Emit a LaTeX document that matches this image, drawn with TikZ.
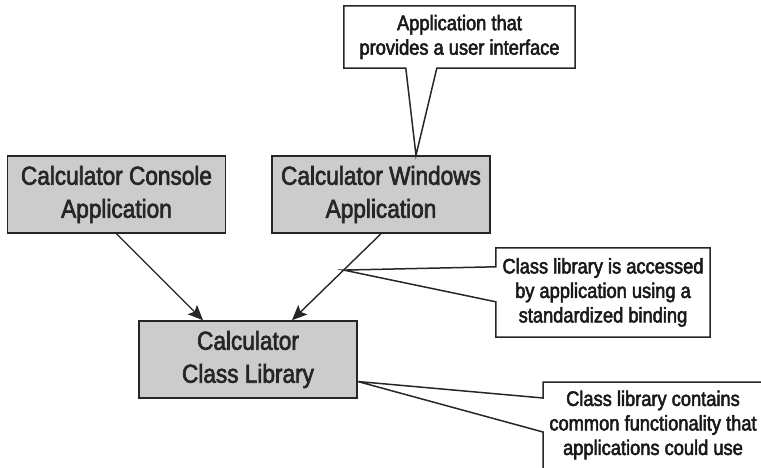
\documentclass[tikz,border=0pt]{standalone}
\usepackage{fontspec}
\newfontfamily\diagfont{Liberation Sans}[FakeStretch=0.87,FakeBold=2.5]
\usetikzlibrary{arrows.meta,calc,positioning}

\begin{document}
\begin{tikzpicture}[x=1pt,y=-1pt]
            \tikzset{
                projbox/.style={draw=black!85, fill=black!20, line width=1.5pt, minimum width=218pt, minimum height=77pt, inner sep=0pt, align=center, text=black!85, font=\diagfont\fontsize{26}{33}\selectfont},
                note/.style={inner sep=0pt, align=center, text=black!90, font=\diagfont\fontsize{21}{24.5}\selectfont},
                noteline/.style={draw=black!85, line width=1.5pt},
                uses/.style={draw=black!85, line width=1.4pt, -{Stealth[length=15pt,width=13pt,inset=3pt]}}
            }
            \useasboundingbox (0,0) rectangle (761,468);
            \clip (0,0) rectangle (761,468);
            \node[projbox] (console) at (116.5,194.5) {Calculator Console\\Application};
            \node[projbox, right=45pt of console] (windows) {Calculator Windows\\Application};
            \node[projbox] (lib) at (248,359.5) {Calculator\\Class Library};
            \draw[uses] (console.south) -- ($(lib.north)+(-45,0)$);
            \draw[uses] (windows.south) -- coordinate[pos=0.42] (bind) ($(lib.north)+(44,0)$);
            \node[note, minimum width=231pt, minimum height=62pt] (uinote) at (459.5,37) {Application that\\provides a user interface};
            \draw[noteline] ($(uinote.south west)+(93,0)$) -- (uinote.south east) -- (uinote.north east) -- (uinote.north west) -- (uinote.south west) -- ($(uinote.south west)+(62,0)$) -- ($(windows.north)+(35,0)$) -- cycle;
            \node[note, minimum width=214pt, minimum height=89pt] (bindnote) at (603,292.5) {Class library is accessed\\by application using a\\standardized binding};
            \draw[noteline] ($(bindnote.north west)+(0,19)$) -- (bindnote.north west) -- (bindnote.north east) -- (bindnote.south east) -- (bindnote.south west) -- ($(bindnote.north west)+(0,54)$) -- (bind) -- cycle;
            \node[note] (libnote) at (653,425) {Class library contains\\common functionality that\\applications could use};
            \coordinate (libnote corner) at (543,382);
            \draw[noteline] ($(libnote corner)+(240,0)$) -- (libnote corner) -- ($(libnote corner)+(0,16)$) -- ($(lib.east)+(0,22)$) -- ($(libnote corner)+(0,50)$) -- ($(libnote corner)+(0,100)$);
        \end{tikzpicture}
\end{document}
